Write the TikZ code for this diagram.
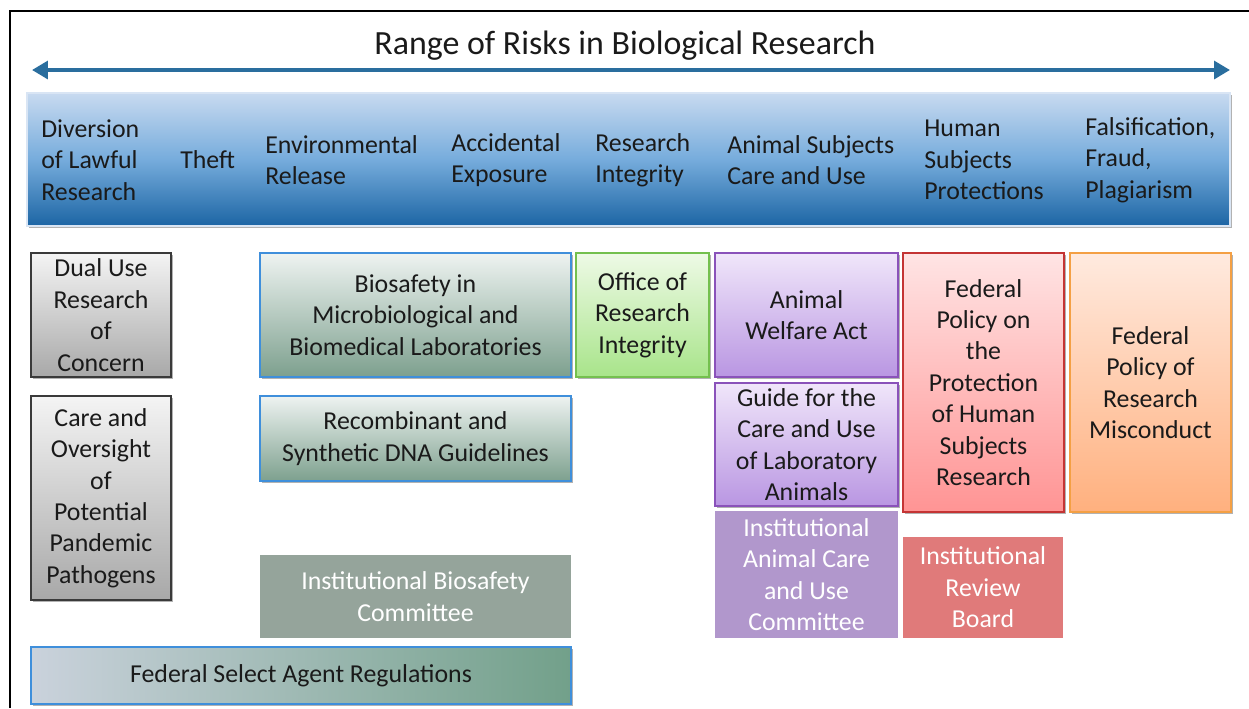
\documentclass[tikz,border=0pt]{standalone}
\usepackage{fontspec}
\setmainfont{Carlito}
\usetikzlibrary{arrows.meta,shadows}
\definecolor{txt}{HTML}{1A1A1A}
\definecolor{arrowblue}{HTML}{2A6E9E}
\definecolor{hdrTop}{HTML}{C8DAF0}
\definecolor{hdrMid}{HTML}{76ACDC}
\definecolor{hdrBot}{HTML}{1C65A4}
\definecolor{grayTop}{HTML}{F4F4F4}
\definecolor{grayBot}{HTML}{A8A8A8}
\definecolor{grayBorder}{HTML}{3A3A3A}
\definecolor{bsTop}{HTML}{EEF3F1}
\definecolor{bsBot}{HTML}{7DA08E}
\definecolor{bsBorder}{HTML}{3F8FDB}
\definecolor{grTop}{HTML}{EEFAE6}
\definecolor{grBot}{HTML}{A8E48A}
\definecolor{grBorder}{HTML}{74C04E}
\definecolor{puTop}{HTML}{F0E6FA}
\definecolor{puBot}{HTML}{B996E2}
\definecolor{puBorder}{HTML}{8A52BA}
\definecolor{rdTop}{HTML}{FFE4E4}
\definecolor{rdBot}{HTML}{FF9494}
\definecolor{rdBorder}{HTML}{C43434}
\definecolor{orTop}{HTML}{FFEADF}
\definecolor{orBot}{HTML}{FFB07E}
\definecolor{orBorder}{HTML}{F4A044}
\definecolor{iacuc}{HTML}{B197CC}
\definecolor{irb}{HTML}{E07A7A}
\definecolor{ibc}{HTML}{95A49B}
\definecolor{fsaL}{HTML}{CAD2DC}
\definecolor{fsaR}{HTML}{72A08A}
\newcommand\mybox[7]{\node[#6, minimum width={(#4-#2)*0.02cm}, minimum height={(#5-#3)*0.02cm}] (#1) at ({(#2+#4)/2},{(#3+#5)/2}) {#7};}
\tikzset{
  bodyfont/.style={font=\fontsize{14.7}{17.9}\selectfont},
  base/.style={rectangle, inner sep=0pt, align=center, text=txt, bodyfont},
  shad/.style={drop shadow={shadow xshift=0.9pt, shadow yshift=-1.2pt, opacity=0.3, fill=black}},
  graybox/.style={base, shad, draw=grayBorder, line width=1pt, top color=grayTop, bottom color=grayBot},
  bsbox/.style={base, shad, draw=bsBorder, line width=1pt, top color=bsTop, bottom color=bsBot},
  grbox/.style={base, shad, draw=grBorder, line width=1pt, top color=grTop, bottom color=grBot},
  pubox/.style={base, shad, draw=puBorder, line width=1pt, top color=puTop, bottom color=puBot},
  rdbox/.style={base, shad, draw=rdBorder, line width=1pt, top color=rdTop, bottom color=rdBot},
  orbox/.style={base, shad, draw=orBorder, line width=1pt, top color=orTop, bottom color=orBot},
  flatbox/.style={base, text=white},
  hdrtext/.style={anchor=west, align=left, inner sep=0pt, text=txt, bodyfont},
}
\begin{document}
\begin{tikzpicture}[x=0.02cm, y=-0.02cm]
\useasboundingbox[fill=white] (0,0) rectangle (1249,708);
% frame
\draw[line width=1.2pt, black] (10,708) -- (10,11) -- (1249,11);
% title
\node[inner sep=0pt, text=txt, font=\fontsize{19.3}{24}\selectfont] (title) at (625,46) {Range of Risks in Biological Research};
% double arrow
\coordinate (al) at (32,70);
\coordinate (ar) at (1230,70);
\draw[arrowblue, line width=2.3pt, {Triangle[length=9pt,width=10pt]}-{Triangle[length=9pt,width=10pt]}] (al) -- (ar);
% header band
\node[rectangle, inner sep=0pt, draw=hdrTop!70!white, line width=0.6pt, top color=hdrTop, bottom color=hdrBot, middle color=hdrMid, shad,
  minimum width={(1230-27)*0.02cm}, minimum height={(226-93)*0.02cm}] (band) at ({(27+1230)/2},{(93+226)/2}) {};
\node[hdrtext] (h1) at (41,160) {Diversion\\of Lawful\\Research};
\node[hdrtext] (h2) at (180,160) {Theft};
\node[hdrtext] (h3) at (265,160) {Environmental\\Release};
\node[hdrtext] (h4) at (451,160) {Accidental\\Exposure};
\node[hdrtext] (h5) at (595,160) {Research\\Integrity};
\node[hdrtext] (h6) at (727,160) {Animal Subjects\\Care and Use};
\node[hdrtext] (h7) at (924,160) {Human\\Subjects\\Protections};
\node[hdrtext] (h8) at (1085,160) {Falsification,\\Fraud,\\Plagiarism};
% boxes
\mybox{dual}{31}{253}{171}{377}{graybox}{Dual Use\\Research\\of\\Concern}
\mybox{ppp}{31}{396}{171}{600}{graybox}{Care and\\Oversight\\of\\Potential\\Pandemic\\Pathogens}
\mybox{bmbl}{260}{253}{571}{377}{bsbox}{Biosafety in\\Microbiological and\\Biomedical Laboratories}
\mybox{rdna}{260}{396}{571}{481}{bsbox}{Recombinant and\\Synthetic DNA Guidelines}
\mybox{ori}{576}{253}{709}{377}{grbox}{Office of\\Research\\Integrity}
\mybox{awa}{715}{253}{898}{377}{pubox}{Animal\\Welfare Act}
\mybox{guide}{715}{383}{898}{506}{pubox}{Guide for the\\Care and Use\\of Laboratory\\Animals}
\mybox{iacucbox}{715}{511}{898}{638}{flatbox, fill=iacuc}{Institutional\\Animal Care\\and Use\\Committee}
\mybox{common}{903}{253}{1064}{512}{rdbox}{Federal\\Policy on\\the\\Protection\\of Human\\Subjects\\Research}
\mybox{misc}{1070}{253}{1231}{512}{orbox}{Federal\\Policy of\\Research\\Misconduct}
\mybox{irbbox}{903}{537}{1063}{638}{flatbox, fill=irb}{Institutional\\Review\\Board}
\mybox{ibcbox}{260}{555}{571}{638}{flatbox, fill=ibc}{Institutional Biosafety\\Committee}
\mybox{fsa}{31}{647}{571}{704}{base, shad, draw=bsBorder, line width=1pt, left color=fsaL, right color=fsaR}{Federal Select Agent Regulations}
\end{tikzpicture}
\end{document}
